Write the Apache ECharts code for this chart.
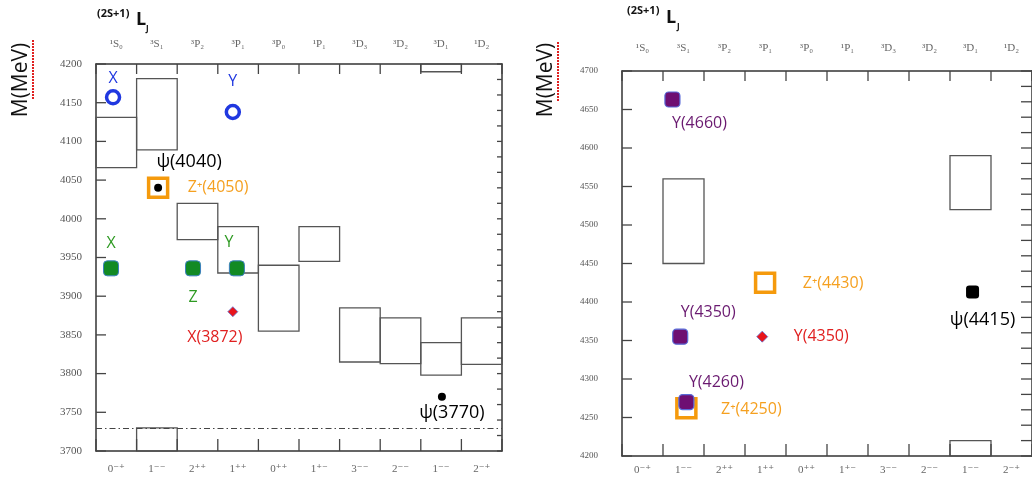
<!DOCTYPE html>
<html>
<head>
<meta charset="utf-8">
<script src="https://cdn.jsdelivr.net/npm/echarts@6/dist/echarts.min.js"></script>
<style>
html, body { margin: 0; padding: 0; background: #fff; }
#main { width: 1032px; height: 487px; }
</style>
</head>
<body>
<div id="main"></div>
<script>
// spectroscopic states (top) and J^PC (bottom)
const stateNames = ['¹S₀', '³S₁', '³P₂', '³P₁', '³P₀', '¹P₁', '³D₃', '³D₂', '³D₁', '¹D₂'];
const jpcNames = ['0⁻⁺', '1⁻⁻', '2⁺⁺', '1⁺⁺', '0⁺⁺', '1⁺⁻', '3⁻⁻', '2⁻⁻', '1⁻⁻', '2⁻⁺'];
const massRangeLeft = [3700, 4200];
const massRangeRight = [4200, 4700];

// predicted mass ranges: [column, low, high]
const boxesLeft = [
  [0, 4066, 4131], [1, 4089, 4181], [1, 3700, 3730], [2, 3973, 4020],
  [3, 3930, 3990], [4, 3855, 3940], [5, 3945, 3990], [6, 3815, 3885],
  [7, 3813, 3872], [8, 3798, 3840], [8, 4190, 4200], [9, 3812, 3872]
];
const boxesRight = [[1, 4450, 4560], [8, 4520, 4590], [8, 4200, 4220]];

// observed states: [column position, mass, name]
const blueOpen = [[0.42, 4157, 'X'], [3.37, 4138, 'Y']];
const greenDots = [[0.37, 3936, 'X'], [2.39, 3936, 'Z'], [3.47, 3936, 'Y']];
const orangeLeft = [[1.53, 4040, 'Z⁺(4050)']];
const blackLeft = [[1.53, 4040, 'ψ(4040)'], [8.52, 3770, 'ψ(3770)']];
const redLeft = [[3.37, 3880, 'X(3872)']];
const orangeRight = [[1.57, 4262, 'Z⁺(4250)'], [3.49, 4425, 'Z⁺(4430)']];
const purpleRight = [[1.23, 4663, 'Y(4660)'], [1.42, 4355, 'Y(4350)'], [1.57, 4270, 'Y(4260)']];
const redRight = [[3.42, 4355, 'Y(4350)']];
const blackRight = [[8.55, 4413, 'ψ(4415)']];
const ddThreshold = 3730;

// label placement (offset from marker centre)
const placeBlue = [[0, -19], [0, -31]];
const placeGreen = [[0, -25], [0, 29], [-8, -26]];
const placeOrangeL = [[60, 0]];
const placeBlackL = [[31, -26], [10, 16]];
const placeRedL = [[-18, 26]];
const placeOrangeR = [[65, 1], [68, 1]];
const placePurple = [[27, 24], [28, -24], [30, -20]];
const placeRedR = [[59, 0]];
const placeBlackR = [[10, 28]];

const chart = echarts.init(document.getElementById('main'));

const serif = '"Liberation Serif", "DejaVu Serif", serif';
const sans = '"Open Sans", "Noto Sans", sans-serif';

function frame() {
  return { show: true, onZero: false, lineStyle: { color: '#333', width: 1.5 } };
}

function catAxis(grid, pos, names, margin) {
  return {
    type: 'category', gridIndex: grid, position: pos, data: names, boundaryGap: true,
    axisLine: frame(),
    axisTick: { show: false },
    axisLabel: { interval: 0, margin: margin, color: '#666', fontFamily: serif, fontSize: 11 },
    splitLine: { show: false }
  };
}
function posAxis(grid) {
  return { type: 'value', gridIndex: grid, min: 0, max: 10, show: false };
}
function massAxis(grid, range, margin, size) {
  return {
    type: 'value', gridIndex: grid, position: 'left', min: range[0], max: range[1], interval: 50,
    axisLine: frame(),
    axisTick: { show: false },
    axisLabel: { margin: margin, color: '#555', fontFamily: serif, fontSize: size,
      formatter: function (v) { return String(v); } },
    splitLine: { show: false }
  };
}
function sideAxis(grid, range) {
  return {
    type: 'value', gridIndex: grid, position: 'right', min: range[0], max: range[1], interval: 20,
    axisLine: frame(), axisTick: { show: false }, axisLabel: { show: false }, splitLine: { show: false }
  };
}

// tick list: [column, mass, length along x (px), length along y (px)]
function tickList(range, sideLen) {
  const out = [];
  for (let v = range[0]; v <= range[1]; v += 50) out.push([0, v, 10, 0]);
  for (let v = range[0]; v <= range[1]; v += 20) out.push([10, v, -sideLen, 0]);
  for (let i = 0; i <= 10; i++) {
    out.push([i, range[0], 0, -12]);
    out.push([i, range[1], 0, 10]);
  }
  return out;
}

function tickSeries(xi, yi, range, sideLen) {
  return {
    type: 'custom', xAxisIndex: xi, yAxisIndex: yi, data: tickList(range, sideLen),
    z: 4, silent: true, clip: false,
    renderItem: function (params, api) {
      const p = api.coord([api.value(0), api.value(1)]);
      const dx = api.value(2), dy = api.value(3);
      const t = 1.3;
      const shape = dy === 0
        ? { x: Math.min(p[0], p[0] + dx), y: p[1] - t / 2, width: Math.abs(dx), height: t }
        : { x: p[0] - t / 2, y: Math.min(p[1], p[1] + dy), width: t, height: Math.abs(dy) };
      return { type: 'rect', shape: shape, style: { fill: '#444', stroke: null } };
    }
  };
}

function boxSeries(data, xi, yi) {
  return {
    type: 'custom', xAxisIndex: xi, yAxisIndex: yi, data: data, z: 2,
    renderItem: function (params, api) {
      const a = api.coord([api.value(0), api.value(1)]);
      const b = api.coord([api.value(0) + 1, api.value(2)]);
      return {
        type: 'rect',
        shape: { x: a[0], y: b[1], width: b[0] - a[0], height: a[1] - b[1] },
        style: { fill: 'none', stroke: '#555', lineWidth: 1.3 }
      };
    }
  };
}

function markers(list, place, xi, yi, symbol, size, style, labelColor, fontSize) {
  return {
    type: 'scatter', xAxisIndex: xi, yAxisIndex: yi, symbol: symbol, symbolSize: size,
    itemStyle: style, z: 5,
    data: list.map(function (p, i) {
      return {
        name: p[2], value: [p[0], p[1]],
        label: {
          show: true, position: 'inside', offset: place[i], formatter: '{b}',
          color: labelColor, fontFamily: sans, fontSize: fontSize
        }
      };
    })
  };
}

const blueStyle = { color: '#fff', borderColor: '#2038e0', borderWidth: 3.5, opacity: 1 };
const greenStyle = { color: '#128a24', borderColor: '#3a7fc0', borderWidth: 1, opacity: 1 };
const orangeStyle = { color: 'rgba(255,255,255,0)', borderColor: '#f59a0c', borderWidth: 3.5, opacity: 1 };
const blackStyle = { color: '#000', opacity: 1 };
const redStyle = { color: '#e8141b', borderColor: '#6070d0', borderWidth: 0.8, opacity: 1 };
const purpleStyle = { color: '#6e0f72', borderColor: '#5a6ad8', borderWidth: 1.2, opacity: 1 };

const option = {
  grid: [
    { left: 96, top: 64, width: 406, height: 387 },
    { left: 622, top: 71, width: 415, height: 385 }
  ],
  xAxis: [
    catAxis(0, 'bottom', jpcNames, 13),
    catAxis(0, 'top', stateNames, 14),
    posAxis(0),
    catAxis(1, 'bottom', jpcNames, 9),
    catAxis(1, 'top', stateNames, 17),
    posAxis(1)
  ],
  yAxis: [
    massAxis(0, massRangeLeft, 14, 11),
    sideAxis(0, massRangeLeft),
    massAxis(1, massRangeRight, 24, 9),
    sideAxis(1, massRangeRight)
  ],
  graphic: [
    { type: 'text', x: 21, y: 80, rotation: Math.PI / 2,
      style: { text: 'M(MeV)', font: '21px ' + sans, fill: '#111', align: 'center', verticalAlign: 'middle' } },
    { type: 'line', shape: { x1: 33, y1: 40, x2: 33, y2: 100 },
      style: { stroke: '#e02020', lineWidth: 2, lineDash: [2, 1] } },
    { type: 'text', x: 546, y: 80, rotation: Math.PI / 2,
      style: { text: 'M(MeV)', font: '21px ' + sans, fill: '#111', align: 'center', verticalAlign: 'middle' } },
    { type: 'line', shape: { x1: 558, y1: 42, x2: 558, y2: 102 },
      style: { stroke: '#e02020', lineWidth: 2, lineDash: [2, 1] } },
    { type: 'text', x: 97, y: 8, style: { text: '(2S+1)', font: 'bold 11px ' + sans, fill: '#111' } },
    { type: 'text', x: 136, y: 11, style: { text: 'L', font: 'bold 18px ' + sans, fill: '#111' } },
    { type: 'text', x: 146, y: 25, style: { text: 'J', font: 'bold 8px ' + sans, fill: '#111' } },
    { type: 'text', x: 627, y: 5, style: { text: '(2S+1)', font: 'bold 11px ' + sans, fill: '#111' } },
    { type: 'text', x: 666, y: 9, style: { text: 'L', font: 'bold 18px ' + sans, fill: '#111' } },
    { type: 'text', x: 677, y: 23, style: { text: 'J', font: 'bold 8px ' + sans, fill: '#111' } }
  ],
  series: [
    tickSeries(2, 0, massRangeLeft, 5),
    tickSeries(5, 2, massRangeRight, 11),
    boxSeries(boxesLeft, 2, 0),
    boxSeries(boxesRight, 5, 2),
    {
      type: 'line', xAxisIndex: 2, yAxisIndex: 0, data: [], symbol: 'none',
      markLine: {
        silent: true, symbol: 'none', label: { show: false },
        lineStyle: { color: '#444', width: 1.2, type: [6, 3, 1.5, 3] },
        data: [{ yAxis: ddThreshold }]
      }
    },
    markers(blueOpen, placeBlue, 2, 0, 'circle', 13, blueStyle, '#2038e0', 16),
    markers(greenDots, placeGreen, 2, 0, 'roundRect', 15, greenStyle, '#2e9a22', 16),
    markers(orangeLeft, placeOrangeL, 2, 0, 'rect', 19, orangeStyle, '#f5a020', 16),
    markers(blackLeft, placeBlackL, 2, 0, 'circle', 8, blackStyle, '#000', 18),
    markers(redLeft, placeRedL, 2, 0, 'diamond', 10, redStyle, '#e02020', 16),
    markers(orangeRight, placeOrangeR, 5, 2, 'rect', 19, orangeStyle, '#f5a020', 16),
    markers(purpleRight, placePurple, 5, 2, 'roundRect', 15, purpleStyle, '#6a1a70', 16),
    markers(redRight, placeRedR, 5, 2, 'diamond', 11, redStyle, '#e02020', 16),
    markers(blackRight, placeBlackR, 5, 2, 'roundRect', 13, blackStyle, '#000', 18)
  ]
};

chart.setOption(option);
</script>
</body>
</html>
